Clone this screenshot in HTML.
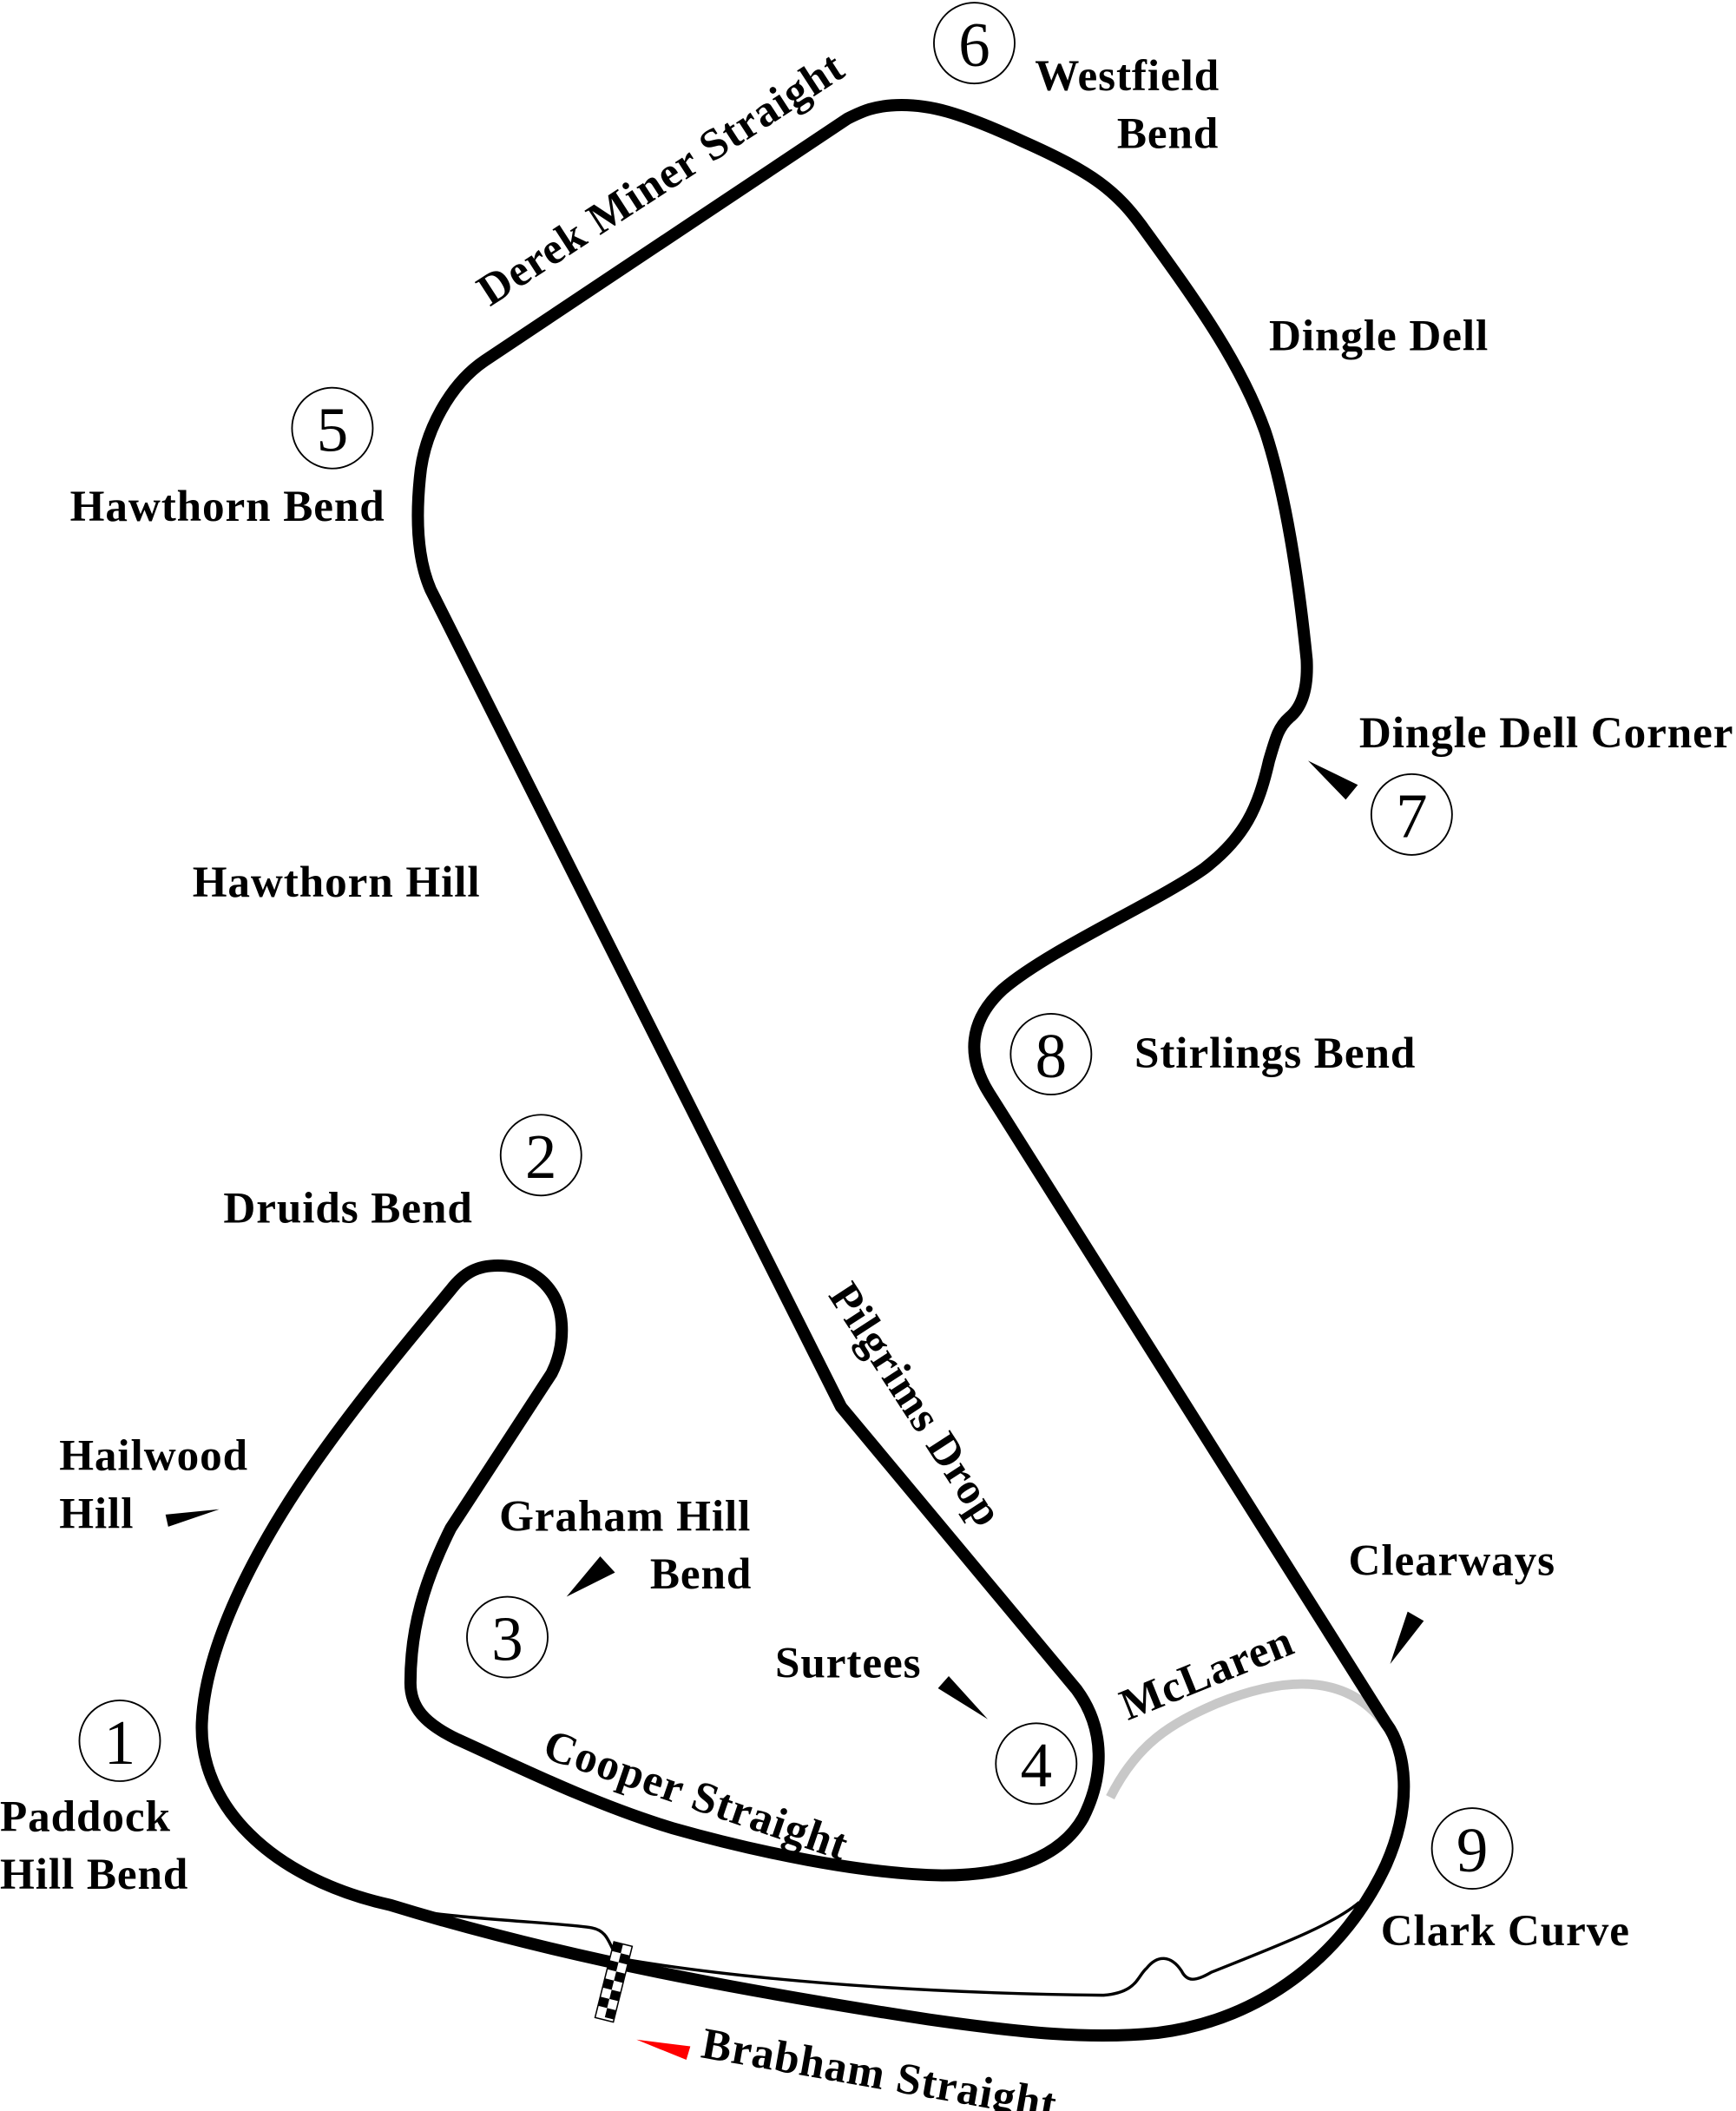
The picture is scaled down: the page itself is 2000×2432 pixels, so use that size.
<!DOCTYPE html>
<html><head><meta charset="utf-8"><style>
html,body{margin:0;padding:0;background:#fff;width:2000px;height:2432px;overflow:hidden}
svg{display:block}
text{font-family:"Liberation Serif",serif}
.l{font-weight:bold;font-size:33px;letter-spacing:0.6px}
.n{font-size:47px;text-anchor:middle}
</style></head><body>
<svg width="2000" height="2432" viewBox="0 0 1290 1568" preserveAspectRatio="none">
<path d="M825,1335 C845,1295 870,1280 905,1265 C950,1247 1000,1240 1030,1282" fill="none" stroke="#c8c8c8" stroke-width="7"/>
<path d="M290,1415 C320,1425 420,1428 440,1432 C455,1435 452,1450 462,1455 C520,1465 640,1480 820,1482 C845,1480 845,1468 852,1462 C860,1452 870,1452 878,1464 C882,1472 888,1472 900,1465 C950,1445 990,1430 1010,1413" fill="none" stroke="#000" stroke-width="2.2"/>
<path d="M150,1280 C148,1340 200,1395 290,1415 C420,1455 560,1480 690,1500 C760,1510 810,1515 860,1510 C940,1500 1000,1450 1030,1385 C1050,1340 1045,1300 1030,1280 L735,812 C718,785 720,758 745,735 C780,705 860,670 895,645 C925,622 935,600 943,565 C948,548 950,540 958,533 C968,525 972,510 971,490 C965,430 955,365 940,320 C922,270 890,225 850,170 C830,142 812,128 760,105 C710,82 690,78 670,78 C650,78 640,83 630,88 L360,268 C335,285 315,320 312,355 C309,385 310,415 320,438 L625,1045 L800,1255 C822,1285 820,1320 805,1350 C788,1380 750,1393 700,1393 C640,1392 560,1375 500,1358 C440,1340 380,1310 340,1292 C315,1280 305,1268 305,1250 C305,1210 315,1175 335,1135 L410,1020 C420,1000 420,975 410,960 C400,945 385,940 370,940 C355,940 345,945 335,958 C300,1000 250,1060 215,1115 C180,1170 152,1230 150,1280 Z" fill="none" stroke="#000" stroke-width="9" stroke-linejoin="round"/>
<g transform="translate(463,1444) rotate(14)">
<rect x="-7" y="0" width="14" height="58" fill="#fff" stroke="#000" stroke-width="1"/>
<g fill="#000">
<rect x="-7" y="0" width="7" height="7"/><rect x="0" y="7" width="7" height="7"/>
<rect x="-7" y="14" width="7" height="7"/><rect x="0" y="21" width="7" height="7"/>
<rect x="-7" y="28" width="7" height="7"/><rect x="0" y="35" width="7" height="7"/>
<rect x="-7" y="42" width="7" height="7"/><rect x="0" y="49" width="7" height="7"/>
</g></g>
<polygon points="473,1515 513,1520 510,1530" fill="#f00"/>
<polygon points="123,1125 163,1121 125,1134" fill="#000"/>
<polygon points="421,1186 446,1156 457,1168" fill="#000"/>
<polygon points="734,1277 697,1254 705,1245" fill="#000"/>
<polygon points="1033,1236 1046,1197 1058,1204" fill="#000"/>
<polygon points="972,565 1009,583 1000,594" fill="#000"/>
<g fill="none" stroke="#000" stroke-width="1.2">
<circle cx="89" cy="1293" r="30"/><circle cx="402" cy="858" r="30"/><circle cx="377" cy="1216" r="30"/>
<circle cx="770" cy="1310" r="30"/><circle cx="247" cy="318" r="30"/><circle cx="724" cy="32" r="30"/>
<circle cx="1049" cy="605" r="30"/><circle cx="781" cy="783" r="30"/><circle cx="1094" cy="1373" r="30"/>
</g>
<g class="n">
<text x="89" y="1310" class="n">1</text><text x="402" y="875" class="n">2</text><text x="377" y="1233" class="n">3</text>
<text x="770" y="1327" class="n">4</text><text x="247" y="335" class="n">5</text><text x="724" y="49" class="n">6</text>
<text x="1049" y="622" class="n">7</text><text x="781" y="800" class="n">8</text><text x="1094" y="1390" class="n">9</text>
</g>
<text class="l" x="0" y="1360">Paddock</text>
<text class="l" x="0" y="1403">Hill Bend</text>
<text class="l" x="44" y="1092">Hailwood</text>
<text class="l" x="44" y="1135">Hill</text>
<text class="l" x="166" y="908">Druids Bend</text>
<text class="l" x="371" y="1137">Graham Hill</text>
<text class="l" x="483" y="1180">Bend</text>
<text class="l" x="576" y="1246">Surtees</text>
<text class="l" x="52" y="387">Hawthorn Bend</text>
<text class="l" x="143" y="666">Hawthorn Hill</text>
<text class="l" x="769" y="67">Westfield</text>
<text class="l" x="830" y="110">Bend</text>
<text class="l" x="943" y="260">Dingle Dell</text>
<text class="l" x="1010" y="555">Dingle Dell Corner</text>
<text class="l" x="843" y="793">Stirlings Bend</text>
<text class="l" x="1002" y="1170">Clearways</text>
<text class="l" x="1026" y="1445">Clark Curve</text>
<text class="l" transform="translate(364,228) rotate(-33)">Derek Miner Straight</text>
<text class="l" transform="translate(615,962) rotate(57)">Pilgrims Drop</text>
<text class="l" transform="translate(402,1305) rotate(19)">Cooper Straight</text>
<text class="l" transform="translate(838,1278) rotate(-22)">McLaren</text>
<text class="l" transform="translate(520,1528) rotate(10)">Brabham Straight</text>
</svg>
</body></html>
